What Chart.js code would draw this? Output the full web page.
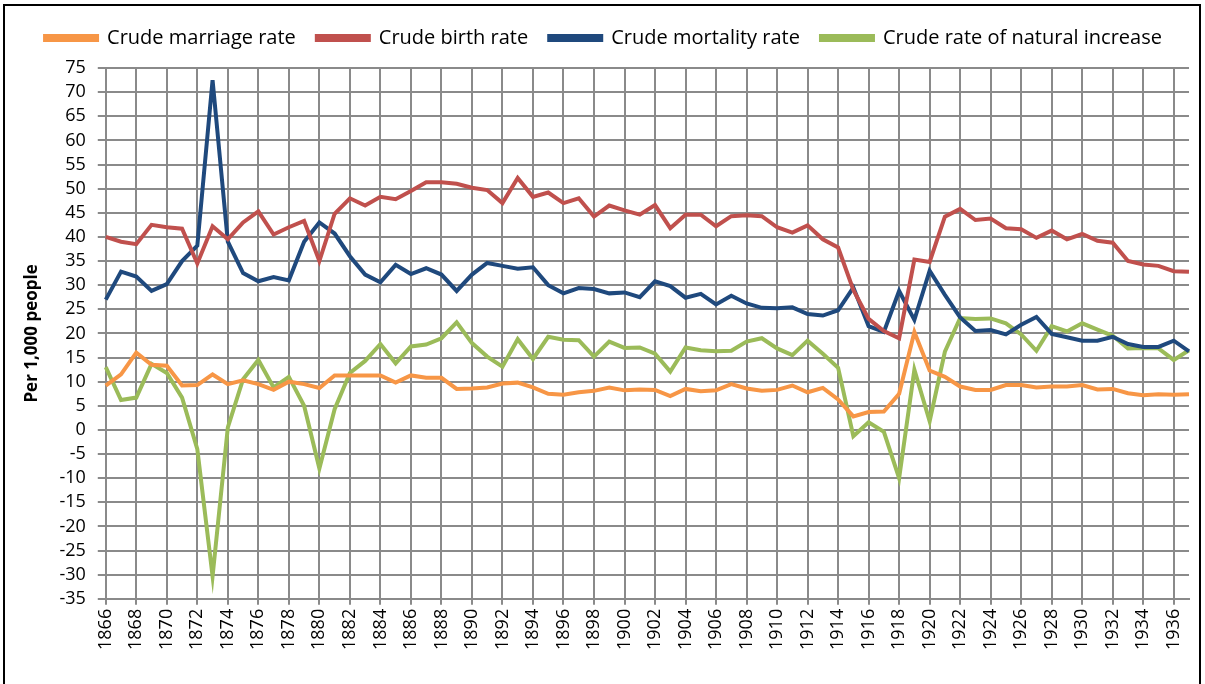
<!DOCTYPE html>
<html lang="en">
<head>
  <meta charset="UTF-8">
  <title>Crude rates</title>
  <script src="https://cdn.jsdelivr.net/npm/chart.js"></script>
  <style>
    html, body { margin: 0; padding: 0; background: #fff; }
    #wrap { position: relative; width: 1205px; height: 684px; }
    #frame {
      position: absolute; left: 3px; top: 4px; width: 1198px; height: 690px;
      border: 2px solid #000; box-sizing: border-box; pointer-events: none;
    }
  </style>
</head>
<body>
  <div id="wrap">
    <canvas id="ratesChart" width="1205" height="684"></canvas>
    <div id="frame"></div>
  </div>

  <script>
    const years = [];
    for (let y = 1866; y <= 1937; y++) years.push(String(y));

    const marriageRate = [9.2, 11.5, 16, 13.5, 13.3, 9.2, 9.3, 11.5, 9.5, 10.3,
      9.5, 8.3, 10, 9.5, 8.7, 11.3, 11.3, 11.3, 11.3, 9.8,
      11.3, 10.8, 10.8, 8.5, 8.6, 8.8, 9.6, 9.8, 8.8, 7.5,
      7.3, 7.8, 8.1, 8.8, 8.2, 8.4, 8.3, 7, 8.5, 8,
      8.2, 9.5, 8.6, 8.1, 8.3, 9.2, 7.8, 8.7, 6.3, 2.8,
      3.7, 3.8, 7.5, 20.3, 12.3, 11, 9, 8.3, 8.3, 9.3,
      9.3, 8.8, 9, 9, 9.3, 8.4, 8.5, 7.6, 7.2, 7.4,
      7.3, 7.4];

    const birthRate = [40, 39, 38.5, 42.5, 42, 41.7, 34.5, 42.2, 39.5, 43,
      45.3, 40.5, 42, 43.3, 35, 44.8, 48, 46.5, 48.3, 47.8,
      49.5, 51.3, 51.3, 51, 50.2, 49.7, 47, 52.2, 48.3, 49.2,
      47, 48, 44.2, 46.5, 45.5, 44.6, 46.6, 41.8, 44.6, 44.6,
      42.2, 44.3, 44.5, 44.3, 42, 40.9, 42.4, 39.5, 37.8, 29,
      23, 20.5, 19, 35.3, 34.8, 44.2, 45.8, 43.5, 43.8, 41.8,
      41.6, 39.8, 41.3, 39.5, 40.6, 39.2, 38.8, 35, 34.3, 34,
      32.9, 32.8];

    const mortalityRate = [27, 32.8, 31.8, 28.8, 30.2, 35, 38.2, 72.5, 39, 32.5,
      30.8, 31.7, 31, 39, 43, 40.7, 36, 32.2, 30.6, 34.2,
      32.3, 33.5, 32.2, 28.8, 32.2, 34.6, 34, 33.4, 33.7, 30,
      28.3, 29.4, 29.2, 28.3, 28.5, 27.5, 30.8, 29.8, 27.4, 28.2,
      26, 27.8, 26.2, 25.3, 25.2, 25.4, 24, 23.7, 24.8, 29.5,
      21.5, 20.3, 28.8, 22.8, 33, 28, 23.3, 20.5, 20.7, 19.8,
      21.8, 23.4, 19.9, 19.2, 18.5, 18.5, 19.3, 17.8, 17.2, 17.2,
      18.5, 16.3];

    const naturalIncrease = [13, 6.2, 6.7, 13.7, 11.8, 6.7, -4, -30.3, 0.5, 10.5,
      14.5, 8.8, 11, 5, -8, 4.3, 11.8, 14.3, 17.8, 13.8,
      17.3, 17.7, 19, 22.3, 18, 15.2, 13.1, 18.8, 14.7, 19.3,
      18.7, 18.6, 15.2, 18.3, 17, 17.1, 15.8, 12.1, 17.1, 16.5,
      16.3, 16.4, 18.3, 19, 16.9, 15.5, 18.5, 15.8, 12.9, -1.3,
      1.6, -0.4, -10, 12.5, 1.8, 16.2, 23.2, 23, 23.1, 22.1,
      19.8, 16.4, 21.5, 20.4, 22.1, 20.8, 19.5, 16.9, 17, 16.9,
      14.5, 16.5];

    const gridGray = '#8a8a8a';
    const fontFamily = '"Open Sans", sans-serif';

    function series(label, data, color) {
      return {
        label: label,
        data: data,
        borderColor: color,
        backgroundColor: color,
        borderWidth: 4,
        pointRadius: 0,
        tension: 0
      };
    }

    // a bit more room under the legend, like the original
    const legendGap = {
      id: 'legendGap',
      beforeInit(chart) {
        const fit = chart.legend.fit;
        chart.legend.fit = function () {
          fit.bind(chart.legend)();
          this.height += 10;
        };
      }
    };

    const ctx = document.getElementById('ratesChart').getContext('2d');
    new Chart(ctx, {
      type: 'line',
      data: {
        labels: years,
        datasets: [
          series('Crude marriage rate', marriageRate, '#F79646'),
          series('Crude birth rate', birthRate, '#C0504D'),
          series('Crude mortality rate', mortalityRate, '#1F497D'),
          series('Crude rate of natural increase', naturalIncrease, '#9BBB59')
        ]
      },
      plugins: [legendGap],
      options: {
        responsive: false,
        animation: false,
        layout: { padding: { left: 18, right: 16, top: 7, bottom: 30 } },
        plugins: {
          tooltip: { enabled: false },
          legend: {
            position: 'top',
            labels: {
              boxWidth: 52,
              boxHeight: 4,
              padding: 21,
              color: '#000',
              font: { family: fontFamily, size: 20 }
            }
          }
        },
        scales: {
          x: {
            afterFit: s => { s.paddingRight = 0; },
            grid: {
              color: c => (c.index % 2 === 0 ? gridGray : 'rgba(0,0,0,0)'),
              lineWidth: 2,
              tickLength: 6
            },
            border: { color: gridGray, width: 2 },
            ticks: {
              autoSkip: false,
              minRotation: 90,
              maxRotation: 90,
              padding: 4,
              color: '#000',
              font: { family: fontFamily, size: 18 },
              callback: function (val, i) { return i % 2 === 0 ? this.getLabelForValue(val) : ''; }
            }
          },
          y: {
            min: -35,
            max: 75,
            ticks: {
              stepSize: 5,
              autoSkip: false,
              padding: 12,
              color: '#000',
              font: { family: fontFamily, size: 18 }
            },
            grid: { color: gridGray, lineWidth: 2, tickLength: 8 },
            border: { color: gridGray, width: 2 },
            title: {
              display: true,
              text: 'Per 1,000 people',
              color: '#000',
              padding: { top: 4, bottom: 5 },
              font: { family: fontFamily, size: 17, weight: 'bold' }
            }
          }
        }
      }
    });
  </script>
</body>
</html>
